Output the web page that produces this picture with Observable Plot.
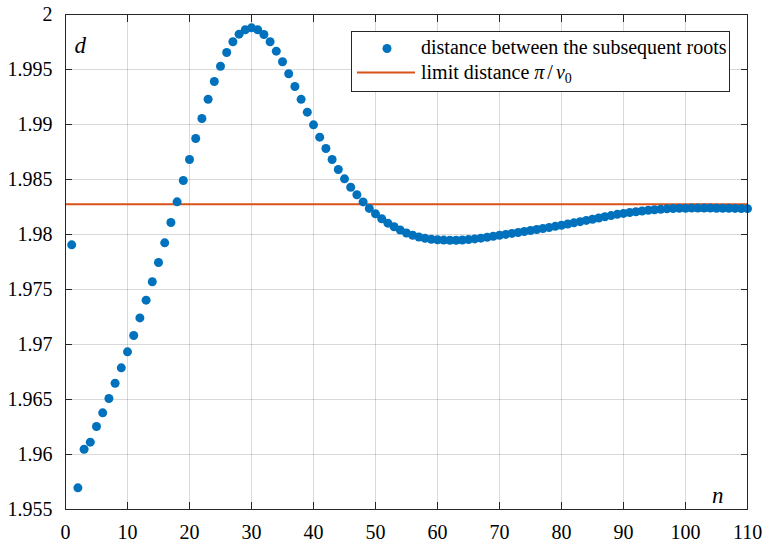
<!DOCTYPE html>
<html>
<head>
<meta charset="utf-8">
<script src="https://cdn.jsdelivr.net/npm/d3@7"></script>
<script src="https://cdn.jsdelivr.net/npm/@observablehq/plot@0.6"></script>
<style>
  html, body { margin: 0; padding: 0; background: white; }
  svg text, svg tspan { font-family: "Liberation Serif", "Times New Roman", serif; }
</style>
</head>
<body>
<div id="chart"></div>
<script>
// ---- data ----
const nValues = d3.range(1, 111);
const distances = [
  1.97906, 1.95697, 1.96048, 1.96112, 1.96255, 1.96379, 1.96509, 1.96648, 1.96788, 1.96933,
  1.97082, 1.97242, 1.97403, 1.97570, 1.97745, 1.97924, 1.98109, 1.98297, 1.98491, 1.98682,
  1.98873, 1.99055, 1.99230, 1.99391, 1.99530, 1.99655, 1.99752, 1.99821, 1.99861, 1.99879,
  1.99861, 1.99818, 1.99752, 1.99667, 1.99570, 1.99461, 1.99345, 1.99229, 1.99112, 1.98997,
  1.98885, 1.98782, 1.98682, 1.98591, 1.98506, 1.98430, 1.98361, 1.98296, 1.98237, 1.98188,
  1.98143, 1.98103, 1.98070, 1.98040, 1.98014, 1.97993, 1.97977, 1.97965, 1.97957, 1.97952,
  1.97949, 1.97948, 1.97948, 1.97950, 1.97954, 1.97960, 1.97967, 1.97975, 1.97984, 1.97993,
  1.98001, 1.98010, 1.98018, 1.98027, 1.98036, 1.98045, 1.98055, 1.98064, 1.98074, 1.98084,
  1.98095, 1.98106, 1.98117, 1.98128, 1.98139, 1.98150, 1.98161, 1.98172, 1.98183, 1.98192,
  1.98200, 1.98207, 1.98214, 1.98220, 1.98225, 1.98229, 1.98233, 1.98236, 1.98238, 1.98239,
  1.98240, 1.98240, 1.98240, 1.98240, 1.98239, 1.98239, 1.98238, 1.98237, 1.98236, 1.98235
];
const limitDistance = [1.98275];
const xTicks = [0, 10, 20, 30, 40, 50, 60, 70, 80, 90, 100, 110];
const yTicks = [1.955, 1.96, 1.965, 1.97, 1.975, 1.98, 1.985, 1.99, 1.995, 2];
const yTickLabels = ["1.955", "1.96", "1.965", "1.97", "1.975", "1.98", "1.985", "1.99", "1.995", "2"];
const legendLabels = ["distance between the subsequent roots", "limit distance "];

const points = nValues.map((n, i) => ({n, d: distances[i]}));

const blue = "#0072BD";
const orange = "#D95319";
const axisColor = "#262626";
const font = "Liberation Serif, serif";

const chart = Plot.plot({
  width: 763,
  height: 543,
  marginLeft: 65,
  marginRight: 16,
  marginTop: 14,
  marginBottom: 34,
  x: {domain: [0, 110], label: null},
  y: {domain: [1.955, 2], label: null},
  style: {fontFamily: font, fontSize: "20px", background: "white", color: "black"},
  marks: [
    Plot.gridX(xTicks, {stroke: "#000", strokeOpacity: 0.15}),
    Plot.gridY(yTicks, {stroke: "#000", strokeOpacity: 0.15}),
    Plot.ruleY(limitDistance, {stroke: orange, strokeWidth: 2}),
    Plot.dot(points, {x: "n", y: "d", r: 4.5, fill: blue, stroke: "none"}),
    // inward ticks on all four sides
    Plot.axisX(xTicks, {anchor: "bottom", tickSize: 7, dy: -7, fill: "none", stroke: axisColor, label: null}),
    Plot.axisX(xTicks, {anchor: "top", tickSize: 7, dy: 7, fill: "none", stroke: axisColor, label: null}),
    Plot.axisY(yTicks, {anchor: "left", tickSize: 7, dx: 7, fill: "none", stroke: axisColor, label: null}),
    Plot.axisY(yTicks, {anchor: "right", tickSize: 7, dx: -7, fill: "none", stroke: axisColor, label: null}),
    // tick labels
    Plot.axisX(xTicks, {anchor: "bottom", tickSize: 0, tickPadding: 15, fill: "black", fontSize: 20, label: null}),
    Plot.axisY(yTicks, {anchor: "left", tickSize: 0, tickPadding: 13, fill: "black", fontSize: 20, label: null,
      tickFormat: v => yTickLabels[yTicks.indexOf(v)]}),
    Plot.frame({stroke: axisColor, strokeWidth: 1}),
    Plot.text(["d"], {frameAnchor: "top-left", textAnchor: "start", lineAnchor: "bottom",
      dx: 9, dy: 38, fontStyle: "italic", fontSize: 23, fill: "black"}),
    Plot.text(["n"], {frameAnchor: "bottom-right", textAnchor: "end", lineAnchor: "bottom",
      dx: -24, dy: -7, fontStyle: "italic", fontSize: 23, fill: "black"})
  ]
});

// legend box
const svg = d3.select(chart);
const lg = svg.append("g").attr("font-size", 20).attr("text-anchor", "start");
lg.append("rect").attr("x", 351.5).attr("y", 31.5).attr("width", 378).attr("height", 60)
  .attr("fill", "white").attr("stroke", axisColor).attr("stroke-width", 1);
lg.append("circle").attr("cx", 387).attr("cy", 48.5).attr("r", 4.5).attr("fill", blue);
lg.append("line").attr("x1", 357).attr("x2", 415).attr("y1", 72.5).attr("y2", 72.5)
  .attr("stroke", orange).attr("stroke-width", 2);
lg.append("text").attr("x", 421).attr("y", 54).attr("text-anchor", "start").attr("fill", "black").text(legendLabels[0]);
const t2 = lg.append("text").attr("x", 421).attr("y", 78.5).attr("text-anchor", "start").attr("fill", "black");
t2.append("tspan").text(legendLabels[1]);
t2.append("tspan").attr("font-style", "italic").text("π");
t2.append("tspan").attr("dx", 3).text("/");
t2.append("tspan").attr("dx", 3).attr("font-style", "italic").text("v");
t2.append("tspan").attr("font-size", 14).attr("dy", 4).text("0");

svg.selectAll("text").style("font-family", "'Liberation Serif', serif");

document.getElementById("chart").appendChild(chart);
</script>
</body>
</html>
